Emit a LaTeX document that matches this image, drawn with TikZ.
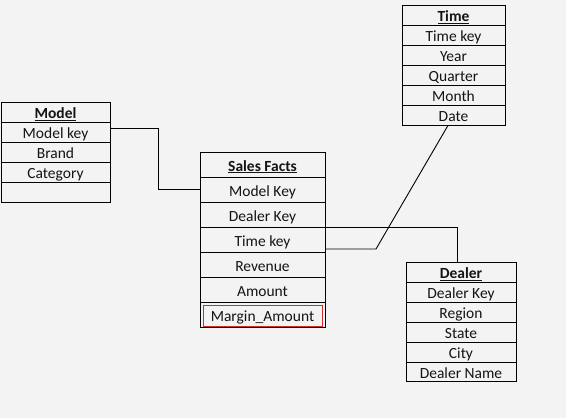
\documentclass[tikz,border=0pt]{standalone}
\usepackage{fontspec}
\setmainfont{Carlito}
\definecolor{bg}{RGB}{243,243,243}
\definecolor{txt}{RGB}{20,20,20}
\definecolor{redbox}{RGB}{205,45,45}
\tikzset{
  cell/.style={draw=black, line width=0.9pt, fill=bg, inner sep=0pt, text=txt,
    font=\fontsize{15.5}{18}\selectfont, text height=13pt, text depth=0pt, anchor=center},
  conn/.style={draw=black, line width=0.9pt},
}
% \mkcell{name}{x1}{y1}{x2}{y2}{text}
\newcommand{\mkcell}[6]{%
  \pgfmathsetmacro{\cw}{#4-#2}\pgfmathsetmacro{\ch}{#5-#3}%
  \node[cell, minimum width=\cw pt, minimum height=\ch pt] (#1) at ({(#2+#4)/2},{(#3+#5)/2}) {#6};}
\newcommand{\hd}[1]{\textbf{\underline{#1}}}
\begin{document}
\begin{tikzpicture}[x=1pt,y=-1pt]
\fill[bg] (0,0) rectangle (566,418);
\useasboundingbox (0,0) rectangle (566,418);
% Model
\mkcell{mh}{1}{102}{110}{122}{\hd{Model}}
\mkcell{m1}{1}{122}{110}{142}{Model key}
\mkcell{m2}{1}{142}{110}{162}{Brand}
\mkcell{m3}{1}{162}{110}{182}{Category}
\mkcell{m4}{1}{182}{110}{202}{}
% Sales Facts
\mkcell{sh}{200}{152}{325}{177}{\hd{Sales Facts}}
\mkcell{s1}{200}{177}{325}{202}{Model Key}
\mkcell{s2}{200}{202}{325}{227}{Dealer Key}
\mkcell{s3}{200}{227}{325}{252}{Time key}
\mkcell{s4}{200}{252}{325}{277}{Revenue}
\mkcell{s5}{200}{277}{325}{302}{Amount}
\mkcell{s6}{200}{302}{325}{327}{Margin\_Amount}
\node[draw=redbox, line width=0.9pt, inner sep=0pt, minimum width=119pt, minimum height=21pt] (rb) at (262.5,315.5) {};
% Time
\mkcell{th}{402}{5}{505}{25}{\hd{Time}}
\mkcell{t1}{402}{25}{505}{45}{Time key}
\mkcell{t2}{402}{45}{505}{65}{Year}
\mkcell{t3}{402}{65}{505}{85}{Quarter}
\mkcell{t4}{402}{85}{505}{105}{Month}
\mkcell{t5}{402}{105}{505}{125}{Date}
% Dealer
\mkcell{dh}{406}{262}{516}{282}{\hd{Dealer}}
\mkcell{d1}{406}{282}{516}{302}{Dealer Key}
\mkcell{d2}{406}{302}{516}{322}{Region}
\mkcell{d3}{406}{322}{516}{342}{State}
\mkcell{d4}{406}{342}{516}{362}{City}
\mkcell{d5}{406}{362}{516}{381}{Dealer Name}
% connectors
\coordinate (mbend) at (158,128);
\coordinate (tbend) at (376,249);
\draw[conn] ([yshift=4pt]m1.east) -- (mbend) |- (s1.west);
\draw[conn] (s2.south east) -| ([xshift=-4pt]dh.north);
\draw[conn] ([yshift=-9.5pt]s3.east) -- (tbend) -- ([xshift=-5.5pt]t5.south);
\end{tikzpicture}
\end{document}
